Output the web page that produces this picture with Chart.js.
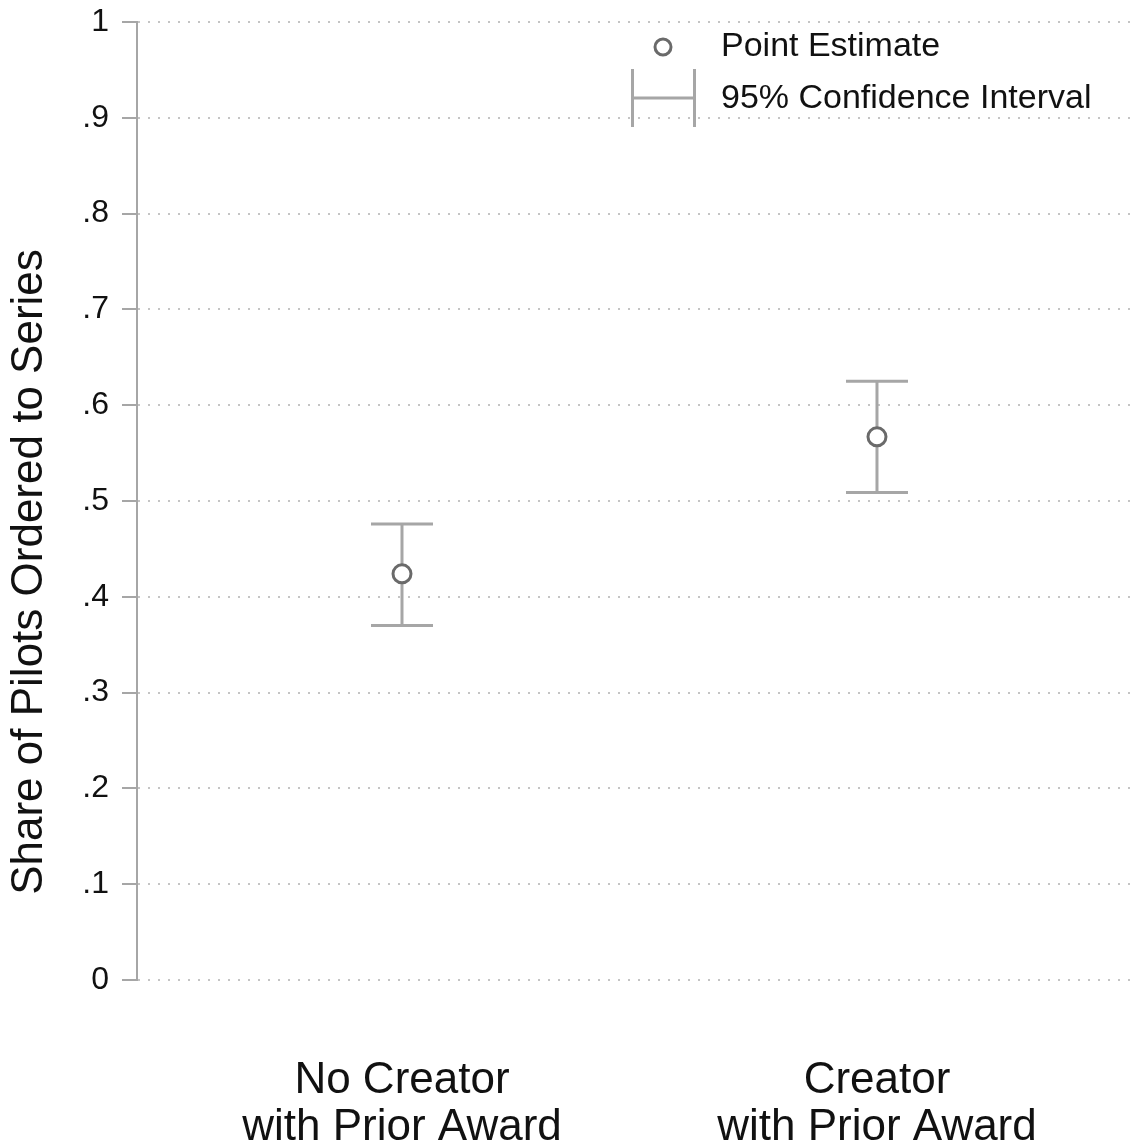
<!DOCTYPE html>
<html>
<head>
<meta charset="utf-8">
<script src="https://cdn.jsdelivr.net/npm/chart.js@4/dist/chart.umd.min.js"></script>
<style>
html,body{margin:0;padding:0;background:#fff;}
#wrap{width:1136px;height:1148px;position:relative;}
</style>
</head>
<body>
<div id="wrap"><canvas id="c" width="1136" height="1148"></canvas></div>
<script>
// ---- data ----
const categories = [['No Creator', 'with Prior Award'], ['Creator', 'with Prior Award']];
const categoryPositions = [1, 2];
const pointEstimates = [0.424, 0.567];
const ciLower = [0.370, 0.509];
const ciUpper = [0.476, 0.625];
const yTickLabels = ['0', '.1', '.2', '.3', '.4', '.5', '.6', '.7', '.8', '.9', '1'];
const yTitle = 'Share of Pilots Ordered to Series';
const legendLabels = ['Point Estimate', '95% Confidence Interval'];

const FONT = '"Liberation Sans", Arial, sans-serif';
const BAR_COLOR = '#a6a6a6';
const MARK_COLOR = '#6a6a6a';
const TEXT_COLOR = '#111111';

const errorBarPlugin = {
  id: 'errorBars',
  beforeDatasetsDraw(chart) {
    const ctx = chart.ctx;
    const xs = chart.scales.x, ys = chart.scales.y;
    ctx.save();
    ctx.strokeStyle = BAR_COLOR;
    ctx.lineWidth = 3;
    const half = 31;
    for (let i = 0; i < categoryPositions.length; i++) {
      const x = xs.getPixelForValue(categoryPositions[i]);
      const yl = ys.getPixelForValue(ciLower[i]);
      const yh = ys.getPixelForValue(ciUpper[i]);
      ctx.beginPath();
      ctx.moveTo(x, yl); ctx.lineTo(x, yh);
      ctx.moveTo(x - half, yl); ctx.lineTo(x + half, yl);
      ctx.moveTo(x - half, yh); ctx.lineTo(x + half, yh);
      ctx.stroke();
    }
    ctx.restore();
  },
  afterDraw(chart) {
    const ctx = chart.ctx;
    ctx.save();
    // legend
    ctx.strokeStyle = MARK_COLOR;
    ctx.fillStyle = '#ffffff';
    ctx.lineWidth = 3;
    ctx.beginPath();
    ctx.arc(663, 47, 8, 0, Math.PI * 2);
    ctx.fill(); ctx.stroke();
    ctx.strokeStyle = BAR_COLOR;
    ctx.beginPath();
    ctx.moveTo(632.5, 69); ctx.lineTo(632.5, 127);
    ctx.moveTo(694.5, 69); ctx.lineTo(694.5, 127);
    ctx.moveTo(632.5, 98); ctx.lineTo(694.5, 98);
    ctx.stroke();
    ctx.fillStyle = TEXT_COLOR;
    ctx.font = '34px ' + FONT;
    ctx.textAlign = 'left';
    ctx.textBaseline = 'middle';
    ctx.fillText(legendLabels[0], 721, 47);
    ctx.fillText(legendLabels[1], 721, 99);
    // y title
    ctx.translate(30, 572);
    ctx.rotate(-Math.PI / 2);
    ctx.textAlign = 'center';
    ctx.textBaseline = 'middle';
    ctx.font = '44px ' + FONT;
    ctx.fillText(yTitle, 0, 0);
    ctx.restore();
  }
};

new Chart(document.getElementById('c'), {
  type: 'scatter',
  data: {
    datasets: [{
      label: legendLabels[0],
      data: categoryPositions.map((x, i) => ({x: x, y: pointEstimates[i]})),
      pointRadius: 9,
      pointHoverRadius: 9,
      borderWidth: 3,
      pointBorderWidth: 3,
      borderColor: MARK_COLOR,
      backgroundColor: '#ffffff',
      pointBackgroundColor: '#ffffff'
    }]
  },
  options: {
    responsive: false,
    animation: false,
    devicePixelRatio: 1,
    layout: {autoPadding: false, padding: {top: 22, left: 0, right: 0, bottom: 0}},
    plugins: {legend: {display: false}, tooltip: {enabled: false}},
    scales: {
      x: {
        type: 'linear',
        min: 0.4421,
        max: 2.5453,
        afterBuildTicks(scale) { scale.ticks = categoryPositions.map(v => ({value: v})); },
        afterFit(scale) { scale.height = 168; scale.paddingLeft = 0; scale.paddingRight = 0; },
        grid: {display: false, drawTicks: false},
        border: {display: false},
        ticks: {
          autoSkip: false,
          maxRotation: 0,
          padding: 77,
          color: TEXT_COLOR,
          font: {family: FONT, size: 44, lineHeight: 1.07},
          callback: (v, i) => categories[i]
        }
      },
      y: {
        type: 'linear',
        min: 0,
        max: 1,
        afterBuildTicks(scale) { scale.ticks = yTickLabels.map((t, i) => ({value: i / 10})); },
        afterFit(scale) { scale.width = 137; scale.paddingTop = 0; scale.paddingBottom = 0; },
        grid: {
          color: '#c4c4c4',
          lineWidth: 2,
          drawTicks: true,
          tickLength: 15,
          tickColor: BAR_COLOR,
          tickWidth: 2,
          tickBorderDash: []
        },
        border: {display: true, color: BAR_COLOR, width: 2, dash: [2, 8], dashOffset: -10},
        ticks: {
          padding: 13,
          color: TEXT_COLOR,
          font: {family: FONT, size: 32},
          callback: (v, i) => yTickLabels[i]
        }
      }
    }
  },
  plugins: [errorBarPlugin]
});
</script>
</body>
</html>
